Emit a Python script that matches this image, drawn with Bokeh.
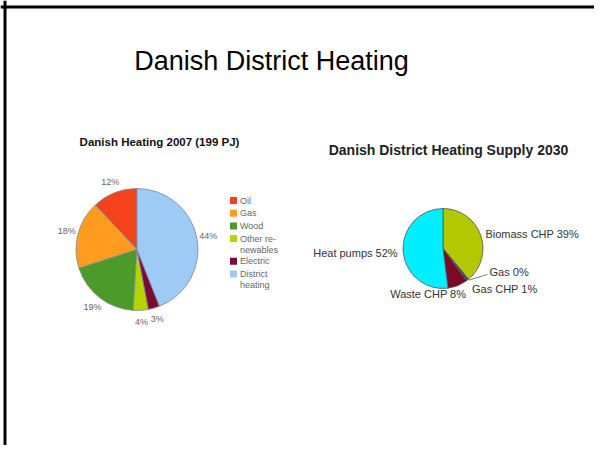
import numpy as np
from bokeh.plotting import figure
from bokeh.models import ColumnDataSource, Range1d, Span
from bokeh.core.properties import value
from bokeh.embed import file_html
from bokeh.resources import INLINE

# ---------------- data ----------------
slide_title = "Danish District Heating"

left_title = "Danish Heating 2007 (199 PJ)"
left_categories = ["Oil", "Gas", "Wood", "Other re-\nnewables", "Electric", "District\nheating"]
left_values = [12, 18, 19, 4, 3, 44]
left_colors = ["#F4431C", "#FF9B1F", "#4C9A2A", "#B4D400", "#7C0A34", "#9ECBF6"]

right_title = "Danish District Heating Supply 2030"
right_categories = ["Biomass CHP", "Gas", "Gas CHP", "Waste CHP", "Heat pumps"]
right_values = [39, 0, 1, 8, 52]
right_colors = ["#B3C800", "#3A5A9A", "#3A4A7A", "#7A0A25", "#00EEFF"]

FONT = "Liberation Sans"

# ---------------- figure ----------------
W, H = 594, 445
p = figure(width=W, height=H, output_backend="svg", toolbar_location=None,
           x_range=Range1d(0, W), y_range=Range1d(-H, 0),
           min_border=0, tools="")
p.axis.visible = False
p.grid.visible = False
p.outline_line_color = None
p.background_fill_color = "white"
p.border_fill_color = "white"

# slide frame (top and left edges)
p.add_layout(Span(location=-6.5, dimension="width", line_color="black", line_width=3))
p.add_layout(Span(location=4.5, dimension="height", line_color="black", line_width=3))

# slide title
p.text(x=[271], y=[-60], text=[slide_title], text_font=value(FONT),
       text_font_size="27px", text_color="black", text_align="center",
       text_baseline="middle")


def pie_fractions(vals):
    v = np.asarray(vals, dtype=float)
    return v / v.sum()


# ---------------- left pie (anticlockwise from top) ----------------
lcx, lcy, lr = 136.5, -249.0, 61.0
frac = pie_fractions(left_values)
ends = np.pi / 2 + 2 * np.pi * np.cumsum(frac)
starts = ends - 2 * np.pi * frac
mids = (starts + ends) / 2
lsrc = ColumnDataSource(dict(start=starts, end=ends, color=left_colors))
p.wedge(x=lcx, y=lcy, radius=lr, start_angle="start", end_angle="end",
        direction="anticlock", fill_color="color", line_color="#7D8A99",
        line_width=0.8, source=lsrc)

lab_r = lr + 11.5
p.text(x=lcx + lab_r * np.cos(mids), y=lcy + lab_r * np.sin(mids),
       text=[f"{v}%" for v in left_values], text_font=value(FONT),
       text_font_size="9px", text_color="#666666", text_align="center",
       text_baseline="middle")

p.text(x=[159], y=[-141.5], text=[left_title], text_font=value(FONT),
       text_font_size="11.5px", text_font_style="bold", text_color="#111111",
       text_align="center", text_baseline="middle")

# legend
leg_x, leg_y0, row_h, extra_h = 233.0, -200.0, 12.7, 9.9
ys = []
y = leg_y0
for cat in left_categories:
    ys.append(y)
    y -= row_h + extra_h * cat.count("\n")
p.rect(x=[leg_x] * len(ys), y=ys, width=7, height=7, fill_color=left_colors,
       line_color=None)
p.text(x=[leg_x + 6.5] * len(ys), y=[v + 5 for v in ys], text=left_categories,
       text_font=value(FONT), text_font_size="9px", text_color="#666666",
       text_align="left", text_baseline="top", text_line_height=1.1)

# ---------------- right pie (clockwise from top) ----------------
rcx, rcy, rr = 442.5, -248.0, 40.0
frac = pie_fractions(right_values)
rends = np.pi / 2 - 2 * np.pi * np.cumsum(frac)
rstarts = rends + 2 * np.pi * frac
rmids = (rstarts + rends) / 2
nz = frac > 0  # a zero-size wedge would otherwise be drawn as a full circle
rsrc = ColumnDataSource(dict(start=rstarts[nz], end=rends[nz],
                             color=[c for c, k in zip(right_colors, nz) if k]))
p.wedge(x=rcx, y=rcy, radius=rr, start_angle="start", end_angle="end",
        direction="clock", fill_color="color", line_color="#555555",
        line_width=0.8, source=rsrc)

p.text(x=[448], y=[-149], text=[right_title], text_font=value(FONT),
       text_font_size="14px", text_font_style="bold", text_color="#222222",
       text_align="center", text_baseline="middle")

right_labels = [f"{c} {v}%" for c, v in zip(right_categories, right_values)]
lab_r = rr + 4
align = ["left", "left", "left", "right", "right"]
dx = [1, 18.5, 2, 7, -1.5]
dy = [0, 10, -6, -5, -2]
for i, txt in enumerate(right_labels):
    ax = rcx + lab_r * np.cos(rmids[i]) + dx[i]
    ay = rcy + lab_r * np.sin(rmids[i]) + dy[i]
    p.text(x=[ax], y=[ay], text=[txt], text_font=value(FONT),
           text_font_size="11px", text_color="#333333", text_align=align[i],
           text_baseline="middle")
    if right_values[i] == 0:
        bx = rcx + (rr + 1) * np.cos(rmids[i])
        by = rcy + (rr + 1) * np.sin(rmids[i])
        p.line(x=[bx, ax - 2], y=[by, ay - 2], line_color="#555555", line_width=0.8)

open("out.html", "w").write(file_html(p, INLINE))
